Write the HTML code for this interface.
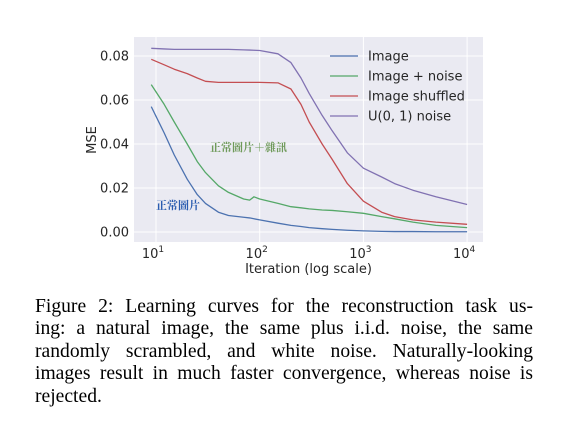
<!DOCTYPE html>
<html><head><meta charset="utf-8"><style>
body{margin:0;background:#fff;width:574px;height:440px;overflow:hidden}
svg text{font-family:"DejaVu Sans","Liberation Sans",sans-serif}
.cap{position:absolute;left:35px;top:296px;width:498px;font-family:"Liberation Serif",serif;font-size:19.6px;line-height:22.4px;color:#000}
.cap div{text-align:justify;text-align-last:justify;white-space:nowrap}
.cap div.last{text-align-last:left}
</style></head><body>
<svg width="574" height="290" style="position:absolute;left:0;top:0">
<g id="g"></g>
</svg>
<div class="cap">
<div>Figure 2: Learning curves for the reconstruction task us-</div>
<div>ing: a natural image, the same plus i.i.d. noise, the same</div>
<div>randomly scrambled, and white noise. Naturally-looking</div>
<div>images result in much faster convergence, whereas noise is</div>
<div class="last">rejected.</div>
</div>
<script>
const xs=[9,12,15,20,25,30,40,50,70,80,88,100,150,200,250,300,400,500,700,1000,1500,2000,3000,5000,10000];
const blue=[0.057,0.045,0.035,0.024,0.017,0.013,0.009,0.0075,0.0067,0.0064,0.006,0.0055,0.004,0.003,0.0025,0.002,0.0015,0.0012,0.0008,0.0005,0.0003,0.0002,0.0002,0.0001,0.0001];
const green=[0.067,0.058,0.05,0.04,0.032,0.027,0.021,0.018,0.015,0.0145,0.016,0.015,0.013,0.0115,0.011,0.0105,0.01,0.0098,0.0092,0.0085,0.007,0.006,0.0045,0.003,0.002];
const red=[0.0785,0.076,0.074,0.072,0.070,0.0685,0.068,0.068,0.068,0.068,0.068,0.068,0.0678,0.065,0.058,0.05,0.04,0.033,0.022,0.014,0.009,0.007,0.0055,0.0045,0.0035];
const purple=[0.0835,0.0832,0.083,0.083,0.083,0.083,0.083,0.083,0.0828,0.0827,0.0826,0.0825,0.081,0.077,0.07,0.063,0.053,0.046,0.036,0.029,0.025,0.022,0.019,0.016,0.0125];
const yTicks=[0,0.02,0.04,0.06,0.08];
const xTicks=[1,2,3,4];
const L=134,R=483,T=37,B=242;
const X=v=>156+(Math.log10(v)-1)*103.7;
const Y=v=>232-v*2200;
const g=document.getElementById('g');const NS='http://www.w3.org/2000/svg';
function el(t,a,txt){const e=document.createElementNS(NS,t);for(const k in a)e.setAttribute(k,a[k]);if(txt!=null)e.textContent=txt;g.appendChild(e);return e;}
let e=el('rect',{x:L,y:T,width:R-L,height:B-T,fill:'#eaeaf2'});


yTicks.forEach(v=>{let l=el('line',{x1:L,x2:R,y1:Y(v),y2:Y(v),stroke:'#fff','stroke-width':1});


let t=el('text',{x:L-5,y:Y(v)+4.5,'text-anchor':'end','font-size':13,fill:'#262626'},v.toFixed(2));

});
xTicks.forEach(p=>{const x=X(Math.pow(10,p));let l=el('line',{x1:x,x2:x,y1:T,y2:B,stroke:'#fff','stroke-width':1});


let t=el('text',{x:x-3,y:B+16,'text-anchor':'middle','font-size':13,fill:'#262626'},'10');


const s=document.createElementNS(NS,'tspan');s.setAttribute('dy','-6');s.setAttribute('font-size','9');s.textContent=p;t.appendChild(s);});
[[blue,'#4c72b0','series-image'],[green,'#55a868','series-image-noise'],[red,'#c44e52','series-image-shuffled'],[purple,'#8172b2','series-uniform-noise']].forEach(([d,c,n])=>{
let p=el('polyline',{points:xs.map((x,i)=>X(x)+','+Y(d[i])).join(' '),fill:'none',stroke:c,'stroke-width':1.3,'stroke-linejoin':'round'});

});
const leg=[['Image','#4c72b0'],['Image + noise','#55a868'],['Image shuffled','#c44e52'],['U(0, 1) noise','#8172b2']];
leg.forEach(([n,c],i)=>{const y=56+i*20;let l=el('line',{x1:330,x2:358,y1:y,y2:y,stroke:c,'stroke-width':1.2});


let t=el('text',{x:368,y:y+4.5,'font-size':13,fill:'#262626'},n);

});
e=el('text',{x:(L+R)/2,y:273,'text-anchor':'middle','font-size':13,fill:'#262626'},'Iteration (log scale)');


e=el('text',{x:96,y:140,'text-anchor':'middle','font-size':13,fill:'#262626',transform:'rotate(-90 96 140)'},'MSE');


e=el('text',{x:210,y:151,'font-size':11,'font-weight':'bold',fill:'#6f9a5a',style:'font-family:"Noto Serif CJK SC",serif'},'正常圖片＋雜訊');


e=el('text',{x:156,y:209,'font-size':11,'font-weight':'bold',fill:'#2a5cb0',style:'font-family:"Noto Serif CJK SC",serif'},'正常圖片');


</script>
</body></html>
